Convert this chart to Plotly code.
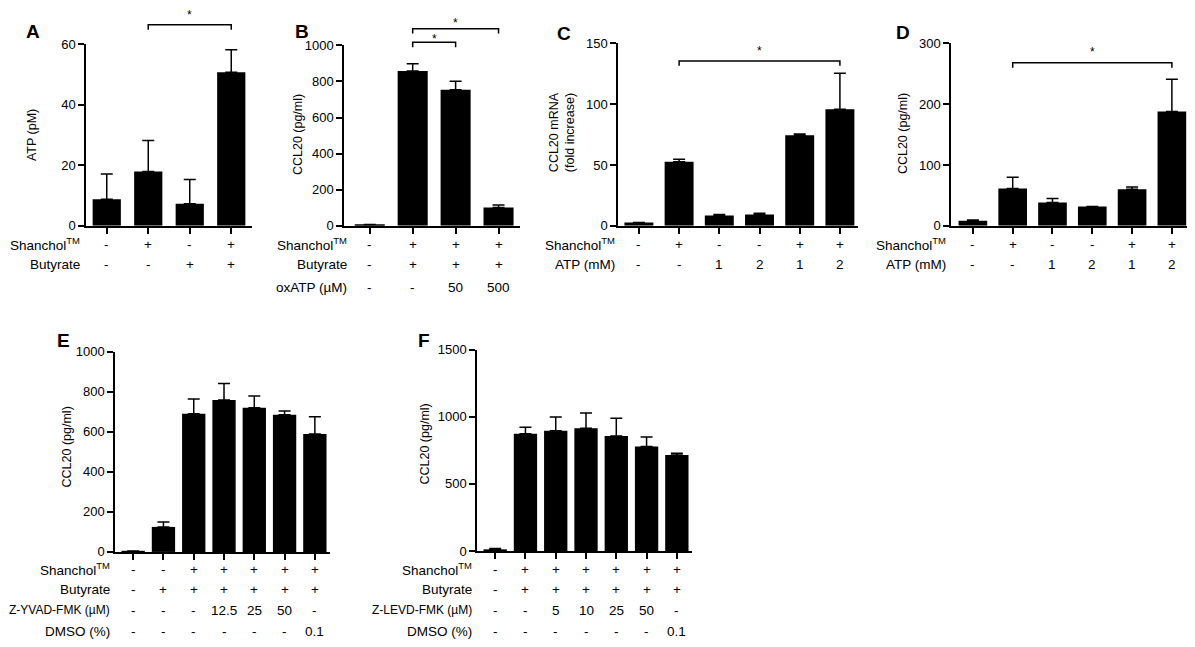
import plotly.graph_objects as go

# page body keeps its 8px margin, so the figure is 16px smaller than the window
PAGE_W, PAGE_H, OFF = 1195, 647, 8
W, H = PAGE_W - 2 * OFF, PAGE_H - 2 * OFF
FONT = "Arial, Liberation Sans, sans-serif"
TM = "Shanchol<sup>TM</sup>"

# ---- data ----
a_mean = [8.8, 18.0, 7.3, 50.8]
a_top = [17.1, 28.2, 15.3, 58.2]
a_rows = [(TM, ["-", "+", "-", "+"]),
          ("Butyrate", ["-", "-", "+", "+"])]

b_mean = [8, 857, 754, 101]
b_top = [8, 897, 801, 115]
b_rows = [(TM, ["-", "+", "+", "+"]),
          ("Butyrate", ["-", "+", "+", "+"]),
          ("oxATP (µM)", ["-", "-", "50", "500"])]

c_mean = [2.7, 52.6, 8.5, 9.3, 74.5, 95.8]
c_top = [2.7, 54.7, 9.3, 10.4, 75.5, 125.4]
c_rows = [(TM, ["-", "+", "-", "-", "+", "+"]),
          ("ATP (mM)", ["-", "-", "1", "2", "1", "2"])]

d_mean = [8.5, 61.4, 38.4, 32, 60.3, 188]
d_top = [9.6, 80, 44.8, 32, 64, 241]
d_rows = [(TM, ["-", "+", "-", "-", "+", "+"]),
          ("ATP (mM)", ["-", "-", "1", "2", "1", "2"])]

e_mean = [5, 125, 691, 759, 720, 686, 589]
e_top = [5, 150, 764, 841, 779, 704, 675]
e_rows = [(TM, ["-", "-", "+", "+", "+", "+", "+"]),
          ("Butyrate", ["-", "+", "+", "+", "+", "+", "+"]),
          ("Z-YVAD-FMK (µM)", ["-", "-", "-", "12.5", "25", "50", "-"]),
          ("DMSO (%)", ["-", "-", "-", "-", "-", "-", "0.1"])]

f_mean = [12, 874, 896, 915, 857, 779, 716]
f_top = [19, 922, 1000, 1029, 990, 850, 728]
f_rows = [(TM, ["-", "+", "+", "+", "+", "+", "+"]),
          ("Butyrate", ["-", "+", "+", "+", "+", "+", "+"]),
          ("Z-LEVD-FMK (µM)", ["-", "-", "5", "10", "25", "50", "-"]),
          ("DMSO (%)", ["-", "-", "-", "-", "-", "-", "0.1"])]

# significance comparisons: (bar i, bar j)
a_sig = [(1, 3)]
b_sig = [(1, 2), (1, 3)]
c_sig = [(1, 5)]
d_sig = [(1, 5)]

# ---- panel layout (page pixels) ----
panels = [
    dict(letter="A", mean=a_mean, top=a_top, rows=a_rows, sig=a_sig,
         px=(86, 252), py=(38, 224), xr=[-0.5, 3.5], yr=[0, 60], dt=20,
         title="ATP (pM)", tx=32, ty=131, lx=33, ly=25, labx=82,
         rowy=[243, 264], sigy=[(18, 5)], w=0.68),
    dict(letter="B", mean=b_mean, top=b_top, rows=b_rows, sig=b_sig,
         px=(344, 520), py=(39, 224), xr=[-0.6, 3.5], yr=[0, 1000], dt=200,
         title="CCL20 (pg/ml)", tx=298, ty=131, lx=302, ly=25, labx=349,
         rowy=[243, 264, 287], sigy=[(36, 30), (22, 14)], w=0.7),
    dict(letter="C", mean=c_mean, top=c_top, rows=c_rows, sig=c_sig,
         px=(618, 858), py=(37, 224), xr=[-0.52, 5.45], yr=[0, 150], dt=50,
         title="CCL20 mRNA<br>(fold increase)", tx=562, ty=128, lx=564, ly=27, labx=617,
         rowy=[243, 264], sigy=[(55, 42)], w=0.72),
    dict(letter="D", mean=d_mean, top=d_top, rows=d_rows, sig=d_sig,
         px=(951, 1187), py=(37, 224), xr=[-0.55, 5.38], yr=[0, 300], dt=100,
         title="CCL20 (pg/ml)", tx=903, ty=130, lx=903, ly=26, labx=948,
         rowy=[243, 264], sigy=[(57, 43)], w=0.72),
    dict(letter="E", mean=e_mean, top=e_top, rows=e_rows, sig=[],
         px=(115, 330), py=(353, 558), xr=[-0.6, 6.5], yr=[0, 1000], dt=200,
         title="CCL20 (pg/ml)", tx=67, ty=451, lx=63, ly=341, labx=112,
         rowy=[576, 597, 618, 639], sigy=[], w=0.77),
    dict(letter="F", mean=f_mean, top=f_top, rows=f_rows, sig=[],
         px=(477, 692), py=(351, 557), xr=[-0.6, 6.5], yr=[0, 1500], dt=500,
         title="CCL20 (pg/ml)", tx=425, ty=448, lx=424, ly=341, labx=474,
         rowy=[576, 597, 618, 639], sigy=[], w=0.77),
]


def fx(p):
    return min(max((p - OFF) / W, 0), 1)


def fy(p):
    return 1 - (p - OFF) / H


def note(text, x, y, xref="paper", xanchor="center", size=13.5, **kw):
    return dict(text=text, x=x, y=y, xref=xref, yref="paper", showarrow=False,
                xanchor=xanchor, yanchor="middle",
                font=dict(family=FONT, size=size, color="black"), **kw)


fig = go.Figure()
annotations = []
shapes = []

for k, p in enumerate(panels):
    n = len(p["mean"])
    sfx = "" if k == 0 else str(k + 1)
    xa, ya = "x" + sfx, "y" + sfx
    cats = list(range(n))
    fig.add_trace(go.Bar(
        x=cats, y=p["mean"], width=p["w"],
        marker=dict(color="black", line=dict(width=0)),
        error_y=dict(type="data", symmetric=False,
                     array=[t - m for t, m in zip(p["top"], p["mean"])],
                     arrayminus=[0] * n, color="black", thickness=1.5, width=6),
        xaxis=xa, yaxis=ya, showlegend=False, hoverinfo="skip",
    ))
    axis_common = dict(showline=True, linecolor="black", linewidth=1.5,
                       ticks="outside", ticklen=6, tickwidth=1.5, tickcolor="black",
                       showgrid=False, zeroline=False,
                       tickfont=dict(family=FONT, size=13, color="black"))
    fig.update_layout(**{
        ("xaxis" + sfx): dict(domain=[fx(p["px"][0]), fx(p["px"][1])], range=p["xr"],
                              tickvals=cats, showticklabels=False, anchor=ya,
                              fixedrange=True, **axis_common),
        ("yaxis" + sfx): dict(domain=[fy(p["py"][1]), fy(p["py"][0])], range=p["yr"],
                              dtick=p["dt"], tick0=0, anchor=xa,
                              fixedrange=True, **axis_common),
    })
    # panel letter
    annotations.append(note("<b>%s</b>" % p["letter"], fx(p["lx"]), fy(p["ly"]), size=19))
    # y title
    annotations.append(note(p["title"], fx(p["tx"]), fy(p["ty"]), size=12.5, textangle=-90))
    # condition rows
    for (name, vals), ry in zip(p["rows"], p["rowy"]):
        lab_size = 12 if name.startswith("Z-") else 13.5
        annotations.append(note(name, fx(p["labx"]), fy(ry), xanchor="right", size=lab_size))
        for i, v in enumerate(vals):
            annotations.append(note(v, i, fy(ry), xref=xa))
    # significance brackets
    for (i, j), (sy, stary) in zip(p["sig"], p["sigy"]):
        y0, y1 = fy(sy + 5), fy(sy)
        shapes.append(dict(type="path", xref=xa, yref="paper",
                           path="M %s,%s L %s,%s L %s,%s L %s,%s" % (i, y0, i, y1, j, y1, j, y0),
                           line=dict(color="black", width=1.5)))
        annotations.append(note("*", (i + j) / 2, fy(stary + 2.5), xref=xa, size=12))

fig.update_layout(
    width=W, height=H, margin=dict(l=0, r=0, t=0, b=0),
    paper_bgcolor="white", plot_bgcolor="white",
    annotations=annotations, shapes=shapes,
    font=dict(family=FONT, color="black"),
)

fig.write_html("out.html", config={"displayModeBar": False})
